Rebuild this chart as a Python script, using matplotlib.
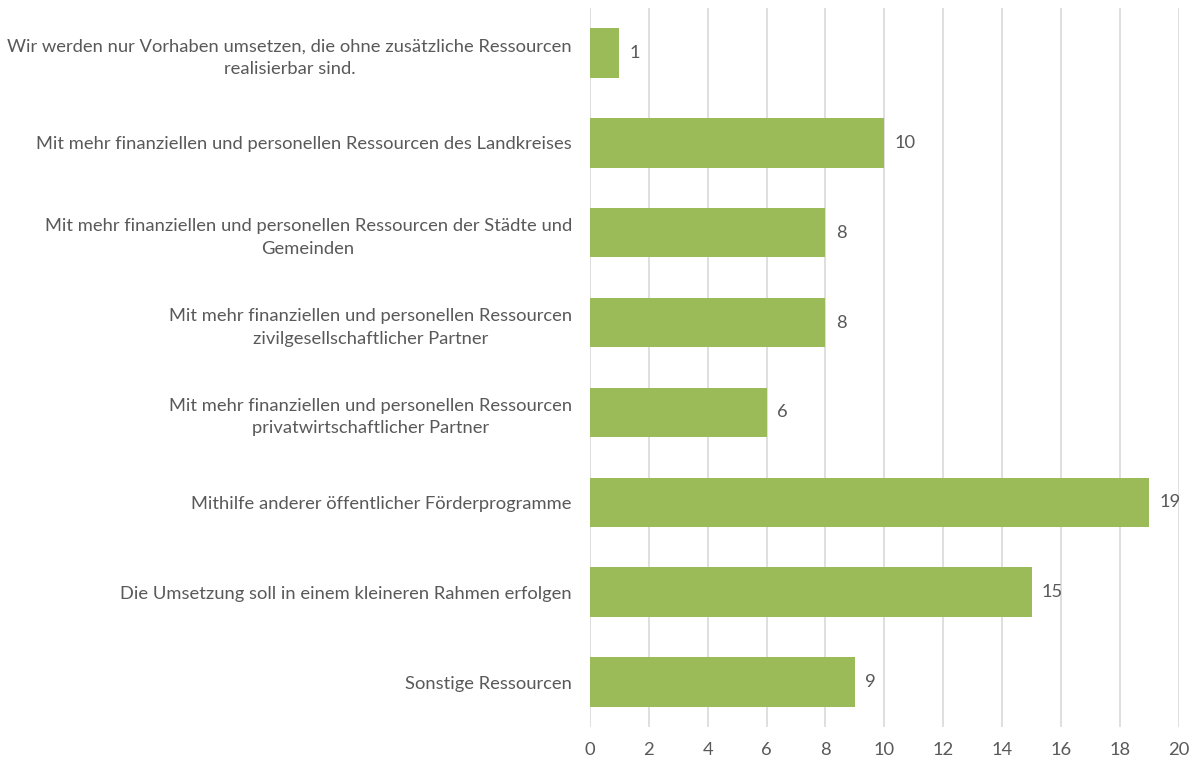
import matplotlib.pyplot as plt

categories = [
    "Wir werden nur Vorhaben umsetzen, die ohne zusätzliche Ressourcen\nrealisierbar sind.",
    "Mit mehr finanziellen und personellen Ressourcen des Landkreises",
    "Mit mehr finanziellen und personellen Ressourcen der Städte und\nGemeinden",
    "Mit mehr finanziellen und personellen Ressourcen\nzivilgesellschaftlicher Partner",
    "Mit mehr finanziellen und personellen Ressourcen\nprivatwirtschaftlicher Partner",
    "Mithilfe anderer öffentlicher Förderprogramme",
    "Die Umsetzung soll in einem kleineren Rahmen erfolgen",
    "Sonstige Ressourcen",
]
counts = [1, 10, 8, 8, 6, 19, 15, 9]
x_ticks = list(range(0, 21, 2))

text_color = "#595959"
fs = 13.2
plt.rcParams["font.family"] = ["Lato", "DejaVu Sans"]

fig = plt.figure(figsize=(11.94, 7.62), dpi=100)
ax = fig.add_axes([0.494, 0.046, 0.4934, 0.9435])

pos = list(range(len(categories)))
bars = ax.barh(pos, counts, height=0.55, color="#9BBB59", zorder=3)

for bar, v in zip(bars, counts):
    ax.text(bar.get_width() + 0.35, bar.get_y() + bar.get_height() / 2, str(v),
            va="center", ha="left", fontsize=fs, color=text_color)

ax.set_ylim(len(categories) - 0.5, -0.5)
ax.set_xlim(0, 20)
ax.set_xticks(x_ticks)
ax.set_yticks(pos)
ax.set_yticklabels(categories, fontsize=fs, color=text_color)
for lbl in ax.get_yticklabels():
    lbl.set_multialignment("center")
    lbl.set_linespacing(1.5)
ax.tick_params(axis="x", labelsize=fs, labelcolor=text_color, length=0, pad=11)
ax.tick_params(axis="y", length=0, pad=13)

ax.grid(axis="x", color="#D9D9D9", linewidth=1.2, zorder=0)
for s in ax.spines.values():
    s.set_visible(False)

fig.savefig("out.png", dpi=100)
